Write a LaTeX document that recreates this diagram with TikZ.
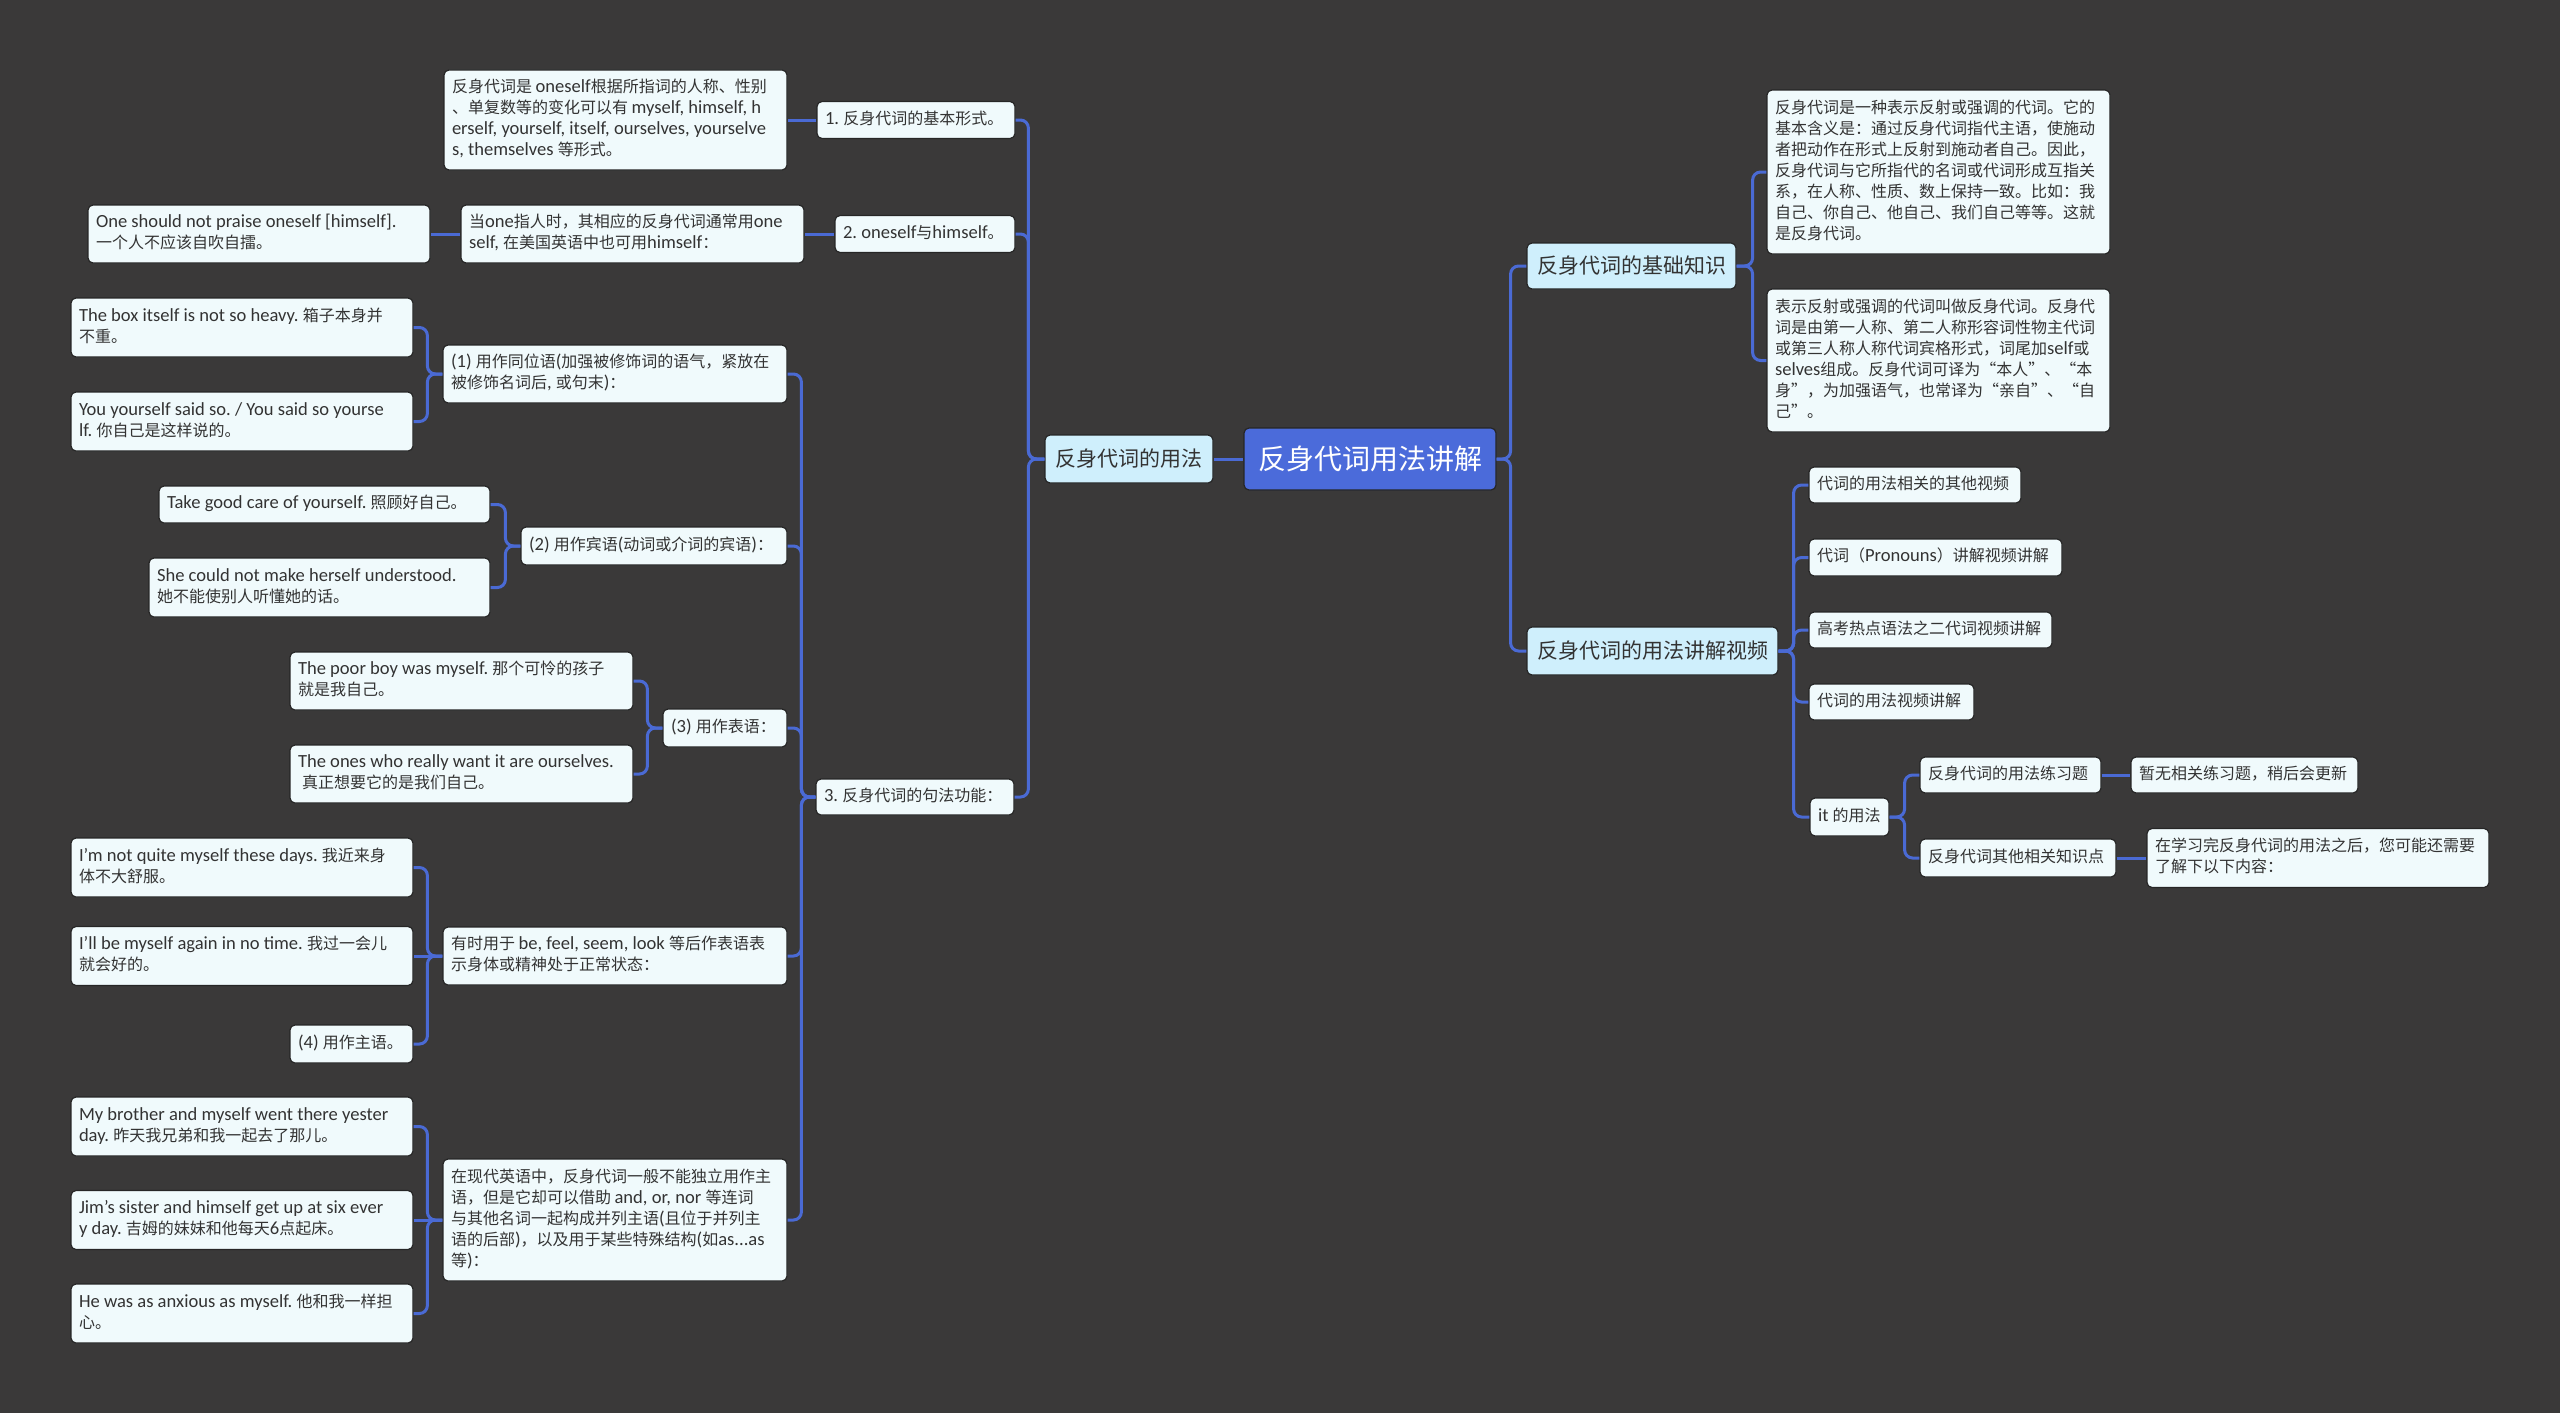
\documentclass[tikz,border=0pt]{standalone}
\usepackage{fontspec}
\setmainfont{Carlito}[Scale=1.16]
\newfontfamily\cjkfont{Noto Sans CJK SC}
\XeTeXinterchartokenstate=1
\newXeTeXintercharclass\cjkcls
\newcount\mycnt
\mycnt="2E80
\loop
  \XeTeXcharclass\mycnt=\cjkcls
\ifnum\mycnt<"9FFF \advance\mycnt by 1 \repeat
\mycnt="FF00
\loop
  \XeTeXcharclass\mycnt=\cjkcls
\ifnum\mycnt<"FFEF \advance\mycnt by 1 \repeat
\XeTeXcharclass"201C=\cjkcls
\XeTeXcharclass"201D=\cjkcls
\XeTeXinterchartoks 0 \cjkcls = {\cjkfont}
\XeTeXinterchartoks 4095 \cjkcls = {\cjkfont}
\XeTeXinterchartoks \cjkcls 0 = {\rmfamily}
\XeTeXinterchartoks 4095 0 = {\rmfamily}
\frenchspacing

\definecolor{bgc}{HTML}{3A3939}
\definecolor{linec}{HTML}{4A6AD4}
\definecolor{rootc}{HTML}{4B6BDA}
\definecolor{lonec}{HTML}{CFEFFC}
\definecolor{leafc}{HTML}{F0FAFC}
\definecolor{txtc}{HTML}{333333}
\definecolor{edgec}{HTML}{262626}

\tikzset{
  basebox/.style={rounded corners=5pt, draw=edgec, line width=1.2pt, inner ysep=2pt},
  rootbox/.style={basebox, fill=rootc, text=white, inner xsep=12pt, font=\fontsize{28}{34}\selectfont},
  lonebox/.style={basebox, fill=lonec, text=txtc, inner xsep=9pt, font=\fontsize{21}{26}\selectfont},
  leafbox/.style={basebox, fill=leafc, text=txtc, inner xsep=8pt, font=\fontsize{16}{21}\selectfont},
  conn/.style={draw=linec, line width=3pt, rounded corners=8pt},
}
\newcommand{\leaf}[6]{\node[leafbox, minimum width=#4pt, minimum height=#5pt] (#1) at (#2,#3)
  {\makebox[\dimexpr#4pt-16pt\relax][l]{\begin{tabular}{@{}l@{}}#6\end{tabular}}};}

\begin{document}
\frenchspacing
\begin{tikzpicture}[x=1pt,y=-1pt]
\fill[bgc] (0,0) rectangle (2560,1413);
\useasboundingbox (0,0) rectangle (2560,1413);

% root and level one
\node[rootbox, minimum width=252pt, minimum height=62pt] (root) at (1370,459) {反身代词用法讲解};
\node[lonebox, minimum width=168pt, minimum height=48pt] (yf) at (1129,459) {反身代词的用法};
\node[lonebox, minimum width=209pt, minimum height=46pt] (r1) at (1631.5,266) {反身代词的基础知识};
\node[lonebox, minimum width=251pt, minimum height=48pt] (r2) at (1652.5,651) {反身代词的用法讲解视频};

% left branch
\leaf{n1}{916}{120}{198}{37}{1. 反身代词的基本形式。}
\leaf{n1t}{615.5}{120}{343}{100}{反身代词是 oneself根据所指词的人称、性别\\、单复数等的变化可以有 myself, himself, h\\erself, yourself, itself, ourselves, yourselve\\s, themselves 等形式。}
\leaf{n2}{925}{234}{180}{37}{2. oneself与himself。}
\leaf{n2a}{632.5}{234}{343}{58}{当one指人时，其相应的反身代词通常用one\\self, 在美国英语中也可用himself：}
\leaf{n2b}{259}{234}{342}{58}{One should not praise oneself [himself].\\一个人不应该自吹自擂。}
\leaf{n3}{915}{797}{198}{36}{3. 反身代词的句法功能：}

\leaf{s1}{615}{374}{344}{58}{(1) 用作同位语(加强被修饰词的语气，紧放在\\被修饰名词后, 或句末)：}
\leaf{s1a}{242}{327.5}{342}{59}{The box itself is not so heavy. 箱子本身并\\不重。}
\leaf{s1b}{242}{421.5}{342}{59}{You yourself said so. / You said so yourse\\lf. 你自己是这样说的。}
\leaf{s2}{654}{546}{266}{38}{(2) 用作宾语(动词或介词的宾语)：}
\leaf{s2a}{324.5}{504.5}{331}{37}{Take good care of yourself. 照顾好自己。}
\leaf{s2b}{319.5}{587.5}{341}{59}{She could not make herself understood.\\她不能使别人听懂她的话。}
\leaf{s3}{725}{728}{124}{38}{(3) 用作表语：}
\leaf{s3a}{461.5}{681}{343}{58}{The poor boy was myself. 那个可怜的孩子\\就是我自己。}
\leaf{s3b}{461.5}{774}{343}{58}{The ones who really want it are ourselves.\\\hspace*{4pt}真正想要它的是我们自己。}
\leaf{s4}{615}{956}{344}{58}{有时用于 be, feel, seem, look 等后作表语表\\示身体或精神处于正常状态：}
\leaf{s4a}{242}{867.5}{342}{59}{I'm not quite myself these days. 我近来身\\体不大舒服。}
\leaf{s4b}{242}{956}{342}{59}{I'll be myself again in no time. 我过一会儿\\就会好的。}
\leaf{s4c}{351.5}{1044}{123}{38}{(4) 用作主语。}
\leaf{s5}{615}{1220}{344}{122}{在现代英语中，反身代词一般不能独立用作主\\语，但是它却可以借助 and, or, nor 等连词\\与其他名词一起构成并列主语(且位于并列主\\语的后部)，以及用于某些特殊结构(如as...as\\等)：}
\leaf{s5a}{242}{1126.5}{342}{59}{My brother and myself went there yester\\day. 昨天我兄弟和我一起去了那儿。}
\leaf{s5b}{242}{1220}{342}{59}{Jim's sister and himself get up at six ever\\y day. 吉姆的妹妹和他每天6点起床。}
\leaf{s5c}{242}{1313.5}{342}{59}{He was as anxious as myself. 他和我一样担\\心。}

% right branch
\leaf{b1}{1938.5}{172}{343}{164}{反身代词是一种表示反射或强调的代词。它的\\基本含义是：通过反身代词指代主语，使施动\\者把动作在形式上反射到施动者自己。因此，\\反身代词与它所指代的名词或代词形成互指关\\系，在人称、性质、数上保持一致。比如：我\\自己、你自己、他自己、我们自己等等。这就\\是反身代词。}
\leaf{b2}{1938.5}{360.5}{343}{143}{表示反射或强调的代词叫做反身代词。反身代\\词是由第一人称、第二人称形容词性物主代词\\或第三人称人称代词宾格形式，词尾加self或\\selves组成。反身代词可译为“本人”、“本\\身”，为加强语气，也常译为“亲自”、“自\\己”。}

\leaf{v1}{1915}{485}{212}{36}{代词的用法相关的其他视频}
\leaf{v2}{1935.5}{557.5}{253}{37}{代词（Pronouns）讲解视频讲解}
\leaf{v3}{1930.5}{630}{243}{36}{高考热点语法之二代词视频讲解}
\leaf{v4}{1891.5}{702}{165}{36}{代词的用法视频讲解}
\leaf{it}{1849.5}{817}{79}{38}{it 的用法}
\leaf{p1}{2010.5}{775}{181}{36}{反身代词的用法练习题}
\leaf{p1a}{2244.5}{775}{227}{36}{暂无相关练习题，稍后会更新}
\leaf{p2}{2018}{858}{196}{38}{反身代词其他相关知识点}
\leaf{p2a}{2318}{858}{342}{59}{在学习完反身代词的用法之后，您可能还需要\\了解下以下内容：}

% connectors
\draw[conn] (root.west) -- (yf.east);
\foreach \c in {r1,r2} \draw[conn] (root.east) -- ++(14,0) |- (\c.west);
\foreach \c in {b1,b2} \draw[conn] (r1.east) -- ++(16,0) |- (\c.west);
\foreach \c in {v1,v2,v3,v4,it} \draw[conn] (r2.east) -- ++(15,0) |- (\c.west);
\foreach \c in {p1,p2} \draw[conn] (it.east) -- ++(15,0) |- (\c.west);
\draw[conn] (p1.east) -- (p1a.west);
\draw[conn] (p2.east) -- (p2a.west);

\foreach \c in {n1,n2,n3} \draw[conn] (yf.west) -- ++(-16,0) |- (\c.east);
\draw[conn] (n1.west) -- (n1t.east);
\draw[conn] (n2.west) -- (n2a.east);
\draw[conn] (n2a.west) -- (n2b.east);
\foreach \c in {s1,s2,s3,s4,s5} \draw[conn] (n3.west) -- ++(-14,0) |- (\c.east);
\foreach \c in {s1a,s1b} \draw[conn] (s1.west) -- ++(-15,0) |- (\c.east);
\foreach \c in {s2a,s2b} \draw[conn] (s2.west) -- ++(-15,0) |- (\c.east);
\foreach \c in {s3a,s3b} \draw[conn] (s3.west) -- ++(-15,0) |- (\c.east);
\foreach \c in {s4a,s4c} \draw[conn] (s4.west) -- ++(-15,0) |- (\c.east);
\draw[conn] (s4.west) -- (s4b.east);
\foreach \c in {s5a,s5c} \draw[conn] (s5.west) -- ++(-15,0) |- (\c.east);
\draw[conn] (s5.west) -- (s5b.east);
\end{tikzpicture}
\end{document}
